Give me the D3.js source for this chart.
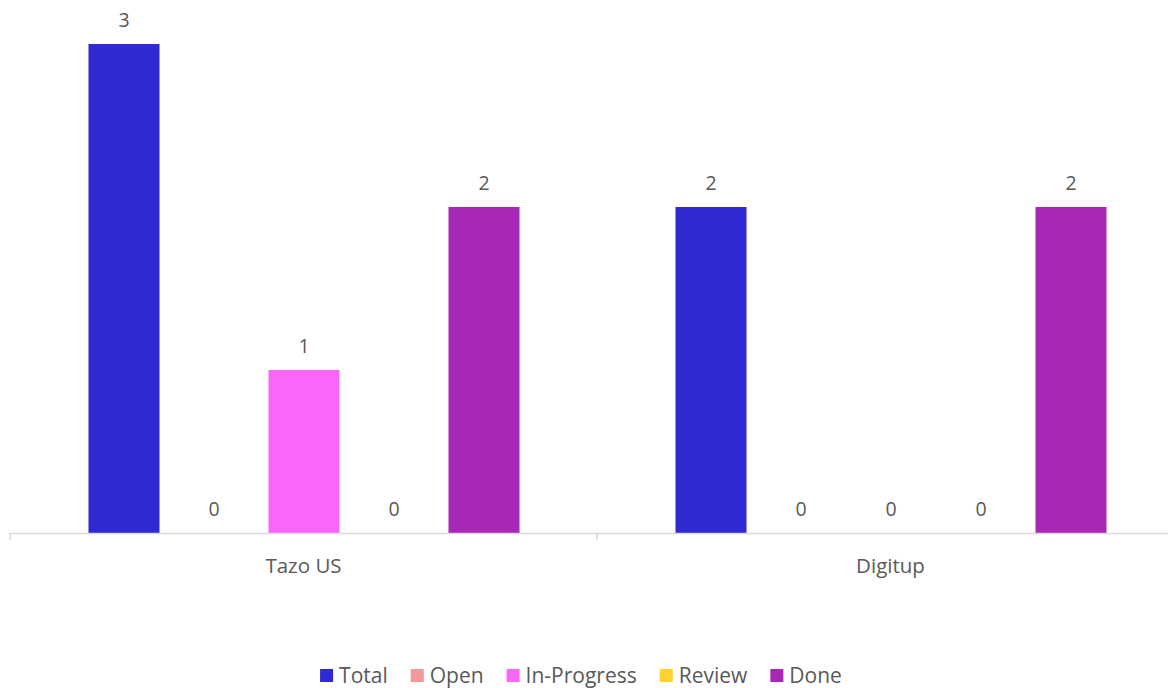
<!DOCTYPE html>
<html>
<head>
<meta charset="utf-8">
<script src="https://cdn.jsdelivr.net/npm/d3@7"></script>
<style>
  body { margin: 0; background: #fff; }
  text { font-family: "Open Sans", Lato, sans-serif; fill: #595959; }
</style>
</head>
<body>
<div id="chart"></div>
<script>
const categories = ["Tazo US", "Digitup"];
const seriesNames = ["Total", "Open", "In-Progress", "Review", "Done"];
const seriesColors = ["#3129D1", "#F4989A", "#F966FA", "#FFD22F", "#A827B5"];
const totalValues = [3, 2];
const openValues = [0, 0];
const inProgressValues = [1, 0];
const reviewValues = [0, 0];
const doneValues = [2, 2];

const seriesValues = [totalValues, openValues, inProgressValues, reviewValues, doneValues];

const width = 1168, height = 688;
const svg = d3.select("#chart").append("svg")
  .attr("width", width)
  .attr("height", height);

// plot area runs past the right edge like the original
const x0 = d3.scaleBand()
  .domain(categories)
  .range([10, 1184])
  .paddingInner(0)
  .paddingOuter(0);

const x1 = d3.scaleBand()
  .domain(seriesNames)
  .range([78.5, 509.5])
  .paddingInner(19 / 90)
  .paddingOuter(0);

const y = d3.scaleLinear()
  .domain([0, 3])
  .range([533, 44]);

// bars
const groups = svg.selectAll("g.cat")
  .data(categories)
  .enter().append("g")
  .attr("class", "cat")
  .attr("transform", d => `translate(${x0(d)},0)`);

groups.each(function(cat, ci) {
  const g = d3.select(this);
  const rows = seriesNames.map((s, si) => ({ s, si, v: seriesValues[si][ci] }));
  g.selectAll("rect")
    .data(rows)
    .enter().append("rect")
    .attr("x", d => x1(d.s))
    .attr("y", d => y(d.v))
    .attr("width", x1.bandwidth())
    .attr("height", d => y(0) - y(d.v))
    .attr("fill", d => seriesColors[d.si]);

  g.selectAll("text.lbl")
    .data(rows)
    .enter().append("text")
    .attr("class", "lbl")
    .attr("x", d => x1(d.s) + x1.bandwidth() / 2)
    .attr("y", d => y(d.v) - 17)
    .attr("text-anchor", "middle")
    .style("font-size", "19.5px")
    .text(d => d.v);
});

// category axis
const axis = svg.append("g")
  .attr("transform", `translate(0,${y(0)})`)
  .call(d3.axisBottom(x0).tickSize(0).tickPadding(25));
axis.select(".domain").attr("stroke", "#D9D9D9").attr("stroke-width", 1.5);
axis.selectAll(".tick text").style("font-size", "20.5px").style("fill", "#595959")
  .style("font-family", "'Open Sans', Lato, sans-serif");

// tick marks at category boundaries
const bounds = categories.map(c => x0(c)).concat([x0.range()[1]]);
axis.selectAll("line.bound")
  .data(bounds)
  .enter().append("line")
  .attr("class", "bound")
  .attr("x1", d => d).attr("x2", d => d)
  .attr("y1", 0).attr("y2", 7)
  .attr("stroke", "#D9D9D9")
  .attr("stroke-width", 1.5);

// legend
const legend = svg.append("g");
let lx = 0;
seriesNames.forEach((s, i) => {
  const item = legend.append("g").attr("transform", `translate(${lx},0)`);
  item.append("rect")
    .attr("x", 0).attr("y", -7)
    .attr("width", 13).attr("height", 13)
    .attr("fill", seriesColors[i]);
  const t = item.append("text")
    .attr("x", 19).attr("y", 0)
    .attr("dy", "0.35em")
    .style("font-size", "21px")
    .text(s);
  lx += 19 + t.node().getComputedTextLength() + 23;
});
const legendWidth = lx - 23;
legend.attr("transform", `translate(${581 - legendWidth / 2},676)`);
</script>
</body>
</html>
